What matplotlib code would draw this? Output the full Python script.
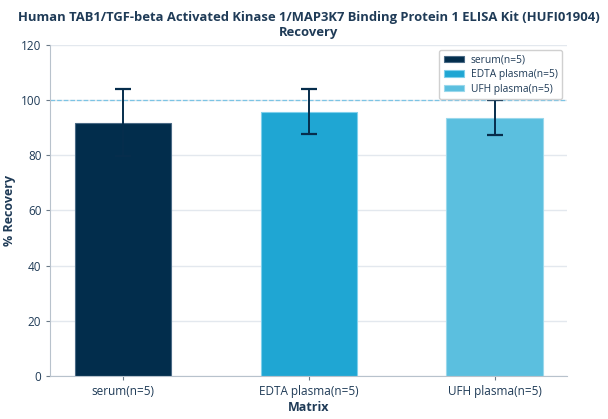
import matplotlib.pyplot as plt

categories = ["serum(n=5)", "EDTA plasma(n=5)", "UFH plasma(n=5)"]
recovery = [91.8, 95.8, 93.6]
errors = [12.2, 8.3, 6.3]
colors = ["#022d4c", "#1fa6d3", "#5bbfdf"]
edges = ["#4a6a85", "#7fd0ec", "#9ad8ec"]

plt.rcParams['font.family'] = ['Open Sans', 'DejaVu Sans']
text_col = "#1f3b57"

fig, ax = plt.subplots(figsize=(6.08, 4.19), dpi=100)
fig.subplots_adjust(left=0.083, right=0.933, top=0.893, bottom=0.103)

x = range(len(categories))
for i in x:
    ax.bar(i, recovery[i], width=0.52, color=colors[i], label=categories[i],
           edgecolor=edges[i], linewidth=0.8, zorder=2)
    ax.errorbar(i, recovery[i], yerr=errors[i], color="#062d4c", capsize=5.8,
                elinewidth=1.4, capthick=1.6, zorder=3)

ax.axhline(100, color="#7cc4e4", linestyle="--", linewidth=0.9, zorder=1)

ax.set_xlim(-0.39, 2.39)
ax.set_ylim(0, 120)
ax.set_yticks(range(0, 121, 20))
ax.set_xticks(list(x))
ax.set_xticklabels(categories)
ax.yaxis.grid(True, color="#e3e8ee", linewidth=1.0, zorder=0)
ax.set_axisbelow(True)
for s in ["top", "right"]:
    ax.spines[s].set_visible(False)
for s in ["left", "bottom"]:
    ax.spines[s].set_color("#b8c2cc")
ax.tick_params(colors="#6b7a88", labelcolor=text_col, labelsize=8.5, length=3)

ax.set_xlabel("Matrix", fontsize=9, fontweight="bold", color=text_col, labelpad=2)
ax.set_ylabel("% Recovery", fontsize=9, fontweight="bold", color=text_col)
ax.set_title("Human TAB1/TGF-beta Activated Kinase 1/MAP3K7 Binding Protein 1 ELISA Kit (HUFI01904)\nRecovery",
             fontsize=9.35, fontweight="bold", color=text_col, pad=6)

leg = ax.legend(loc="upper right", fontsize=7.4, frameon=True, fancybox=True,
                framealpha=1, borderpad=0.45, handlelength=2.0, handleheight=0.6,
                handletextpad=0.6, labelspacing=0.35, borderaxespad=0,
                bbox_to_anchor=(0.99, 0.985))
leg.get_frame().set_edgecolor("#d0d0d0")
leg.set_zorder(10)
for t in leg.get_texts():
    t.set_color(text_col)

plt.savefig("out.png", dpi=100)
